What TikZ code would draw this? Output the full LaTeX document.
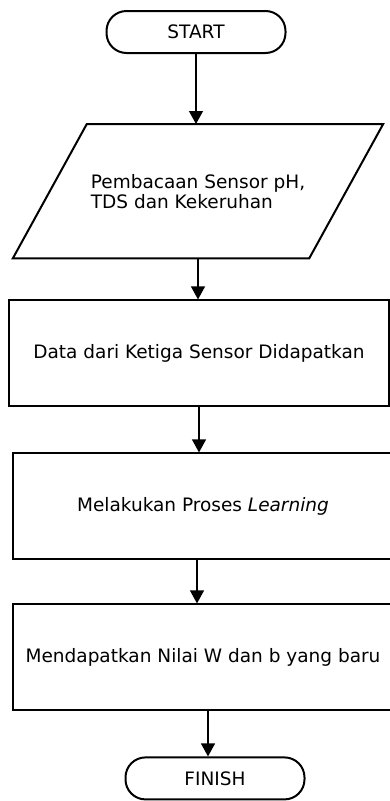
\documentclass[tikz,border=0pt]{standalone}
\usepackage{fontspec}
\setmainfont{DejaVu Sans}
\usetikzlibrary{arrows.meta,positioning}

\begin{document}
\begin{tikzpicture}[
    x=1pt, y=-1pt,
    every node/.style={font=\fontsize{18.5}{20}\selectfont},
    term/.style={draw, line width=2pt, rounded corners=20pt, minimum width=179pt, minimum height=42pt},
    io/.style={minimum width=296pt, minimum height=134pt, align=left},
    box/.style={draw, line width=2pt, minimum width=380pt, minimum height=106pt, align=center},
    arr/.style={-{Triangle[length=13pt,width=14pt]}, line width=1.2pt}
  ]
    \useasboundingbox (0,0) rectangle (390,801);
    \node[term] (start) at (196,32) {START};
    \node[io, below=70pt of start, xshift=2pt] (read) {Pembacaan Sensor pH,\\TDS dan Kekeruhan};
    \draw[line width=2pt] ([xshift=37pt]read.north west) -- ([xshift=37pt]read.north east)
      -- ([xshift=-37pt]read.south east) -- ([xshift=-37pt]read.south west) -- cycle;
    \node[box, below=41pt of read, xshift=1pt] (data) {Data dari Ketiga Sensor Didapatkan};
    \node[box, below=45pt of data, xshift=4pt] (learn) {Melakukan Proses \textit{Learning}};
    \node[box, below=43pt of learn] (result) {Mendapatkan Nilai W dan b yang baru};
    \node[term, below=45pt of result, xshift=12pt] (finish) {FINISH};
    \draw[arr] (start) -- (start |- read.north);
    \draw[arr] (read.south) -- (read.south |- data.north);
    \draw[arr] (data.south) -- (data.south |- learn.north);
    \draw[arr] ([xshift=-6pt]learn.south) -- ([xshift=-6pt]learn.south |- result.north);
    \draw[arr] ([xshift=5pt]result.south) -- ([xshift=5pt]result.south |- finish.north);
  \end{tikzpicture}
\end{document}
